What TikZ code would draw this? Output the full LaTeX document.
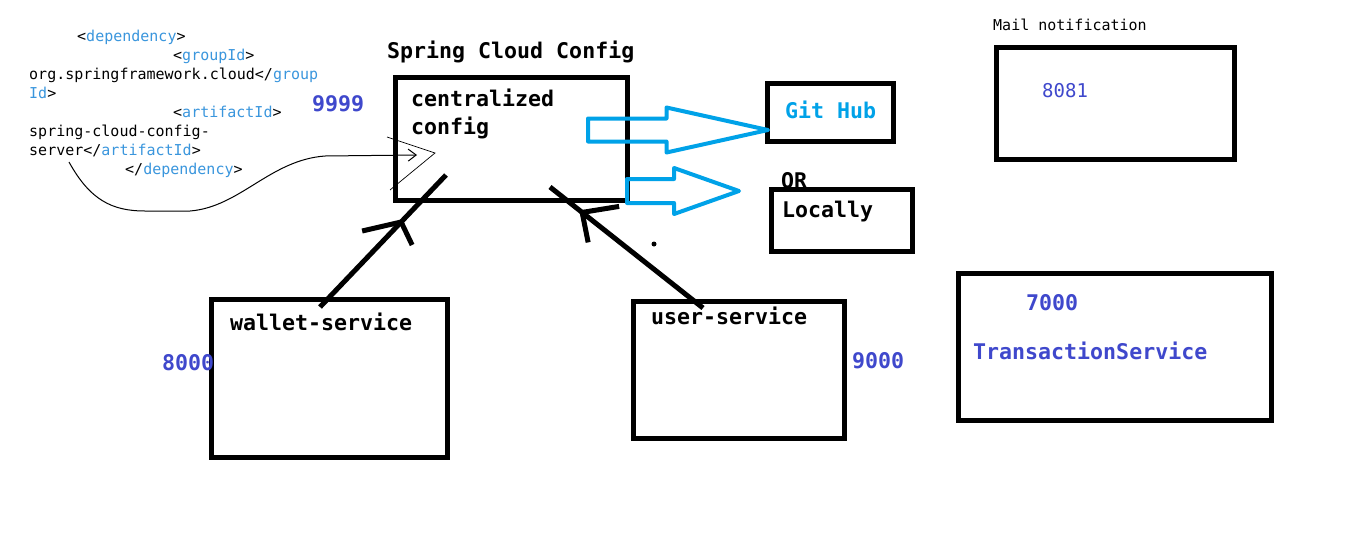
\documentclass[tikz,border=0pt]{standalone}
\usepackage{fontspec}
\usepackage{xcolor}
\usetikzlibrary{arrows.meta}
\usetikzlibrary{calc}
\usetikzlibrary{shapes.arrows}
\newfontfamily\codefont{DejaVu Sans Mono}
\definecolor{indigo}{RGB}{63,72,204}
\definecolor{paintcyan}{RGB}{0,162,232}
\definecolor{xmlblue}{RGB}{58,150,221}
\newcommand{\xtag}[1]{\textcolor{xmlblue}{#1}}
\tikzset{
  box/.style={draw, line width=5pt, inner sep=0pt},
  lbl/.style={anchor=base west, inner sep=0pt, font=\codefont\bfseries\fontsize{21.6}{26}\selectfont},
  port/.style={lbl, text=indigo},
  xml/.style={anchor=base west, inner sep=0pt, font=\codefont\fontsize{15}{18}\selectfont},
  conn/.style={line width=5pt, line join=round},
  bigarrow/.style={single arrow, draw=paintcyan, line width=4pt, line join=round, inner xsep=0pt, text height=0pt, text depth=0pt, anchor=tail},
}

\begin{document}
\begin{tikzpicture}[x=1pt,y=-1pt]
\useasboundingbox[fill=white] (0,0) rectangle (1349,544);

% xml snippet
\node[xml] (dep) at (77,41) {<\xtag{dependency}>};
\node[xml] (grp) at (173,60) {<\xtag{groupId}>};
\node[xml] (grpval) at (29,79) {org.springframework.cloud</\xtag{group}};
\node[xml] (grpend) at (29,98) {\xtag{Id}>};
\node[xml] (art) at (173,117) {<\xtag{artifactId}>};
\node[xml] (artval) at (29,136) {spring-cloud-config-};
\node[xml] (artend) at (29,155) {server</\xtag{artifactId}>};
\node[xml] (depend) at (125,174) {</\xtag{dependency}>};

% config server
\node[lbl] (title) at (387,58) {Spring Cloud Config};
\node[box, minimum width=232pt, minimum height=123pt] (cfg) at (511,138.5) {};
\node[lbl] (cfgname) at (411,106) {centralized};
\node[lbl] (cfgname2) at (411,134) {config};
\node[port] (cfgport) at (312,111) {9999};

% stores
\node[box, minimum width=126pt, minimum height=58pt] (git) at (830,112) {};
\node[lbl, text=paintcyan] (gitname) at (785,118) {Git Hub};
\node[lbl] (or) at (781,188) {OR};
\node[box, minimum width=141pt, minimum height=62pt] (local) at (841.5,220) {};
\node[lbl] (localname) at (782,217) {Locally};
\node[bigarrow, inner ysep=9.5pt, single arrow head extend=11pt, single arrow tip angle=25, minimum height=180pt] (togit) at (586,130) {};
\node[bigarrow, inner ysep=10pt, single arrow head extend=11pt, single arrow tip angle=39, minimum height=112pt] (tolocal) at (625,191) {};

% other services
\node[xml] (mailname) at (993,30) {Mail notification};
\node[box, minimum width=238pt, minimum height=112pt] (mail) at (1115,103) {};
\node[port, font=\codefont\fontsize{19}{23}\selectfont] (mailport) at (1042,97) {8081};
\node[box, minimum width=313pt, minimum height=147pt] (trans) at (1114.5,346.5) {};
\node[port] (transport) at (1026,310) {7000};
\node[port] (transname) at (973,359) {TransactionService};

\node[box, minimum width=236pt, minimum height=158pt] (wallet) at (329,378) {};
\node[lbl] (walletname) at (230,330) {wallet-service};
\node[port] (walletport) at (162,370) {8000};
\node[box, minimum width=211pt, minimum height=137pt] (user) at (738.5,369.5) {};
\node[lbl] (username) at (651,324) {user-service};
\node[port] (userport) at (852,368) {9000};

% connectors
\coordinate (xmlend) at (69,162);
\coordinate (cfgin) at (417,155);
\draw[line width=1pt, -{Straight Barb[length=8pt,width=12pt]}] (xmlend) .. controls (90,200) and (112,211) .. (145,211) -- (190,211) .. controls (240,207) and (270,160) .. (325,156) -- (cfgin);
\draw[line width=0.7pt] ([shift={(-30,-18)}]cfgin) -- ([shift={(18,-2)}]cfgin) -- ([shift={(-27,35)}]cfgin);

\coordinate (wbot) at (320,307);
\coordinate (wtop) at (446,175);
\draw[conn] (wbot) -- (wtop);
\coordinate (wv) at ($(wbot)!0.644!(wtop)$);
\draw[conn] ([shift={(-39,9)}]wv) -- (wv) -- ([shift={(11,23)}]wv);

\coordinate (ubot) at (703,308);
\coordinate (utop) at (550,187);
\draw[conn] (ubot) -- (utop);
\coordinate (uv) at ($(ubot)!0.79!(utop)$);
\draw[conn] ([shift={(37,-6)}]uv) -- (uv) -- ([shift={(6,30)}]uv);

\fill (654,244) circle (2.5);
\end{tikzpicture}
\end{document}
